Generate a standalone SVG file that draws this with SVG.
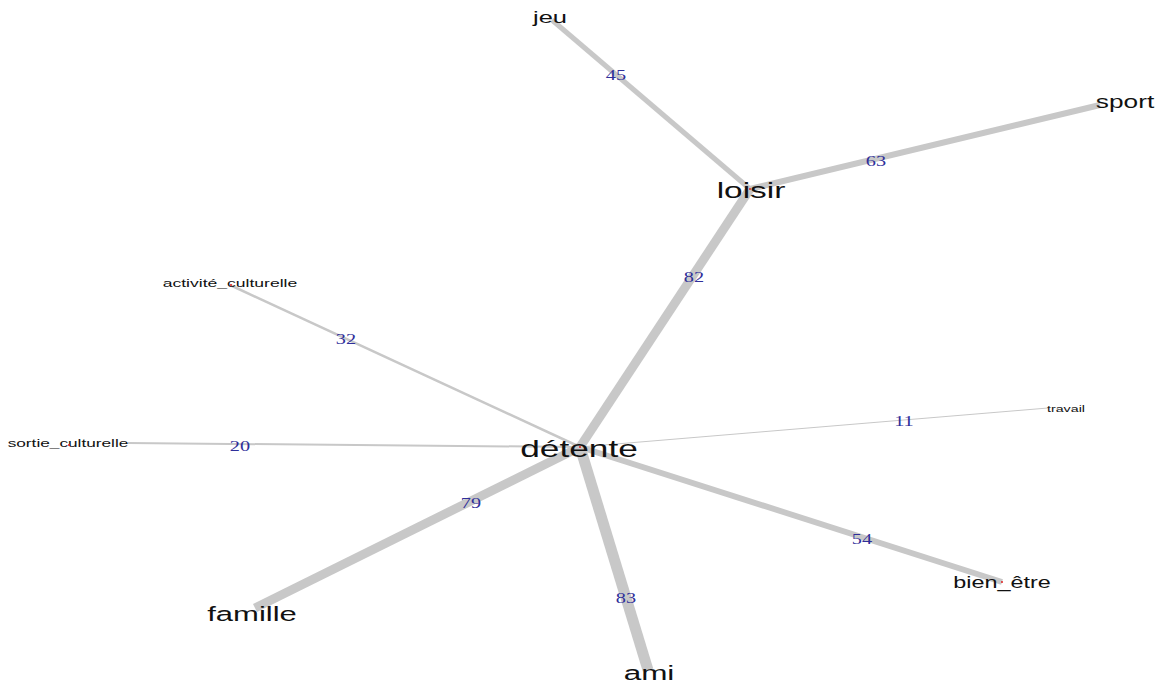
<svg xmlns="http://www.w3.org/2000/svg" width="1164" height="687" viewBox="0 0 1164 687">
<style>
.e{stroke:#c8c8c8;stroke-linecap:butt;fill:none}
.n{font-family:"Liberation Sans",Arial,sans-serif;fill:#111;text-anchor:middle}
.l{font-family:"Liberation Serif","Times New Roman",serif;fill:#2f2f9a;font-size:14px;text-anchor:middle}
.d{fill:#e02020}
</style>
<rect width="1164" height="687" fill="#fff"/>
<g id="connectors">
<line class="e" x1="580" y1="447" x2="750" y2="189" stroke-width="9"/>
<line class="e" x1="750" y1="189" x2="552" y2="20" stroke-width="5"/>
<line class="e" x1="750" y1="189" x2="1100" y2="105" stroke-width="6"/>
<line class="e" x1="580" y1="447" x2="230" y2="285" stroke-width="2.5"/>
<line class="e" x1="580" y1="447" x2="128" y2="443" stroke-width="2"/>
<line class="e" x1="580" y1="447" x2="1048" y2="408" stroke-width="1"/>
<line class="e" x1="580" y1="447" x2="1002" y2="582" stroke-width="6"/>
<line class="e" x1="580" y1="447" x2="648" y2="670" stroke-width="11"/>
<line class="e" x1="580" y1="447" x2="255" y2="608" stroke-width="9"/>
<g id="edge-labels">
<text class="l" transform="translate(616,80) scale(1.45,1)">45</text>
<text class="l" transform="translate(876,166) scale(1.45,1)">63</text>
<text class="l" transform="translate(694,282) scale(1.45,1)">82</text>
<text class="l" transform="translate(346,344) scale(1.45,1)">32</text>
<text class="l" transform="translate(240,451) scale(1.45,1)">20</text>
<text class="l" transform="translate(904,426) scale(1.45,1)">11</text>
<text class="l" transform="translate(471,508) scale(1.45,1)">79</text>
<text class="l" transform="translate(862,544) scale(1.45,1)">54</text>
<text class="l" transform="translate(626,603) scale(1.45,1)">83</text>
</g>
</g>
<g id="detente"><text class="n" transform="translate(579,457) scale(1.5,1)" font-size="23.5">détente</text><circle class="d" cx="580" cy="447" r="1"/></g>
<g id="loisir"><text class="n" transform="translate(751,198) scale(1.5,1)" font-size="22.3">loisir</text><circle class="d" cx="750" cy="189" r="1"/></g>
<g id="jeu"><text class="n" transform="translate(550,23) scale(1.5,1)" font-size="17">jeu</text></g>
<g id="sport"><text class="n" transform="translate(1125,108) scale(1.5,1)" font-size="17.5">sport</text></g>
<g id="activite_culturelle"><text class="n" transform="translate(230,287) scale(1.5,1)" font-size="11.7">activité_culturelle</text><circle class="d" cx="231" cy="285" r="1"/></g>
<g id="sortie_culturelle"><text class="n" transform="translate(68,447) scale(1.5,1)" font-size="11.5">sortie_culturelle</text><circle class="d" cx="69" cy="445" r="1"/></g>
<g id="travail"><text class="n" transform="translate(1066,412) scale(1.5,1)" font-size="9.5">travail</text></g>
<g id="bien_etre"><text class="n" transform="translate(1002,588) scale(1.5,1)" font-size="15.6">bien_être</text><circle class="d" cx="1002" cy="582" r="1"/></g>
<g id="ami"><text class="n" transform="translate(649,680) scale(1.5,1)" font-size="21">ami</text></g>
<g id="famille"><text class="n" transform="translate(252,621) scale(1.5,1)" font-size="20.7">famille</text></g>
</svg>
